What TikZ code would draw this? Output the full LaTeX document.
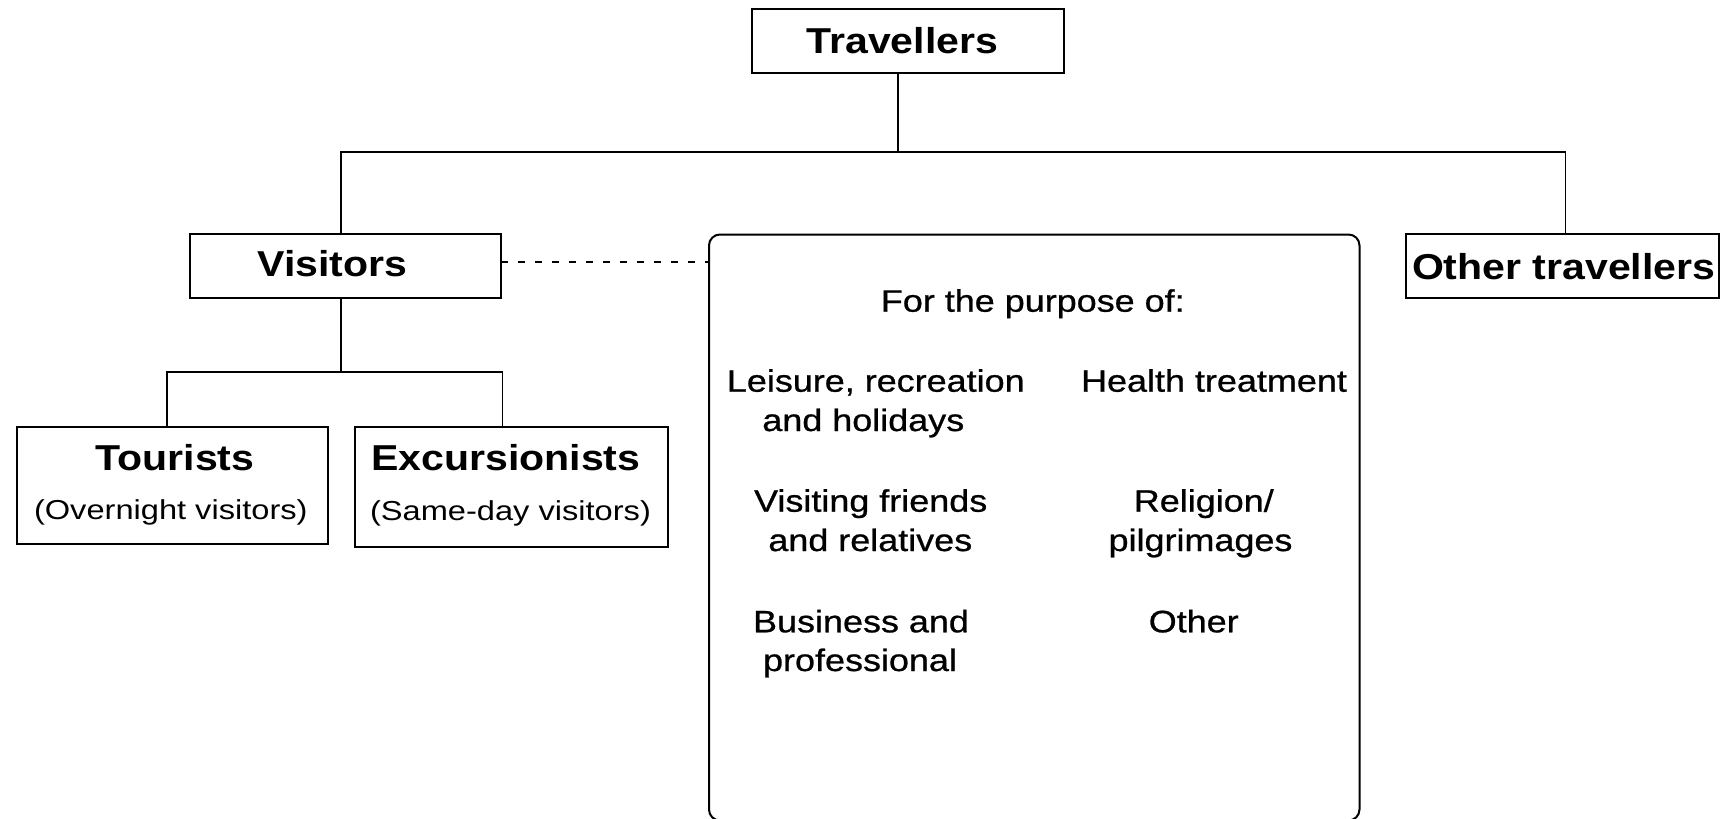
\documentclass[tikz,border=0pt]{standalone}
\usepackage{fontspec}
\setmainfont{Liberation Sans}
\newfontfamily\headfont[FakeStretch=1.14]{Liberation Sans}
\newfontfamily\stretchfont[FakeStretch=1.16,FakeBold=0.8]{Liberation Sans}
\newfontfamily\subfont[FakeStretch=1.19]{Liberation Sans}
\tikzset{
  box/.style={draw, line width=2pt, inner sep=0pt, outer sep=0pt},
  head/.style={font=\headfont\bfseries\fontsize{36}{43}\selectfont, anchor=base, inner sep=0pt},
  ptext/.style={font=\stretchfont\fontsize{31}{39}\selectfont, anchor=base, inner sep=0pt},
  subtext/.style={font=\subfont\fontsize{27.4}{33}\selectfont, anchor=base, inner sep=0pt},
  link/.style={line width=1.8pt},
  dashlink/.style={line width=1.5pt, dash pattern=on 6.7pt off 10.3pt}
}
\begin{document}
\begin{tikzpicture}[x=1pt,y=-1pt]
\useasboundingbox[fill=white] (0,0) rectangle (1724,819);

% boxes
\node[box, minimum width=311.5pt, minimum height=64pt] (trav) at (907.75,41.3) {};
\node[box, minimum width=311.2pt, minimum height=63.7pt] (vis) at (345.8,265.85) {};
\node[box, minimum width=313pt, minimum height=64.3pt] (oth) at (1562.5,266.15) {};
\node[box, minimum width=311pt, minimum height=116.7pt] (tour) at (172.8,485.65) {};
\node[box, minimum width=312.7pt, minimum height=119.7pt] (exc) at (511.35,486.85) {};
\node[box, rounded corners=11pt, minimum width=650.5pt, minimum height=586pt] (purp) at (1034.25,527.5) {};

% box texts
\node[head] (travT) at (902.4,53.3) {Travellers};
\node[head] (visT) at (332.6,276) {Visitors};
\node[head] (othT) at (1563.7,279) {Other travellers};
\node[head] (tourT) at (175,470.7) {Tourists};
\node[subtext] (tourS) at (170.8,519) {(Overnight visitors)};
\node[head] (excT) at (505.8,470) {Excursionists};
\node[subtext] (excS) at (510.5,520) {(Same-day visitors)};

% purpose texts
\node[ptext] (pHead) at (1032.8,311.7) {For the purpose of:};
\node[ptext] (pL1a) at (875.8,391.7) {Leisure, recreation};
\node[ptext] (pL1b) at (863.3,431) {and holidays};
\node[ptext] (pL2a) at (870.7,511.7) {Visiting friends};
\node[ptext] (pL2b) at (870.3,551) {and relatives};
\node[ptext] (pL3a) at (861,632.3) {Business and};
\node[ptext] (pL3b) at (860,671) {professional};
\node[ptext] (pR1) at (1214,391.7) {Health treatment};
\node[ptext] (pR2a) at (1203.8,511.7) {Religion/};
\node[ptext] (pR2b) at (1200.5,551) {pilgrimages};
\node[ptext] (pR3) at (1193.7,632.3) {Other};

% junction coordinates
\coordinate (j1) at (898.3,152);
\coordinate (vl) at (341,152);
\coordinate (vr) at (1565.5,152);
\coordinate (j2) at (341,372);
\coordinate (tl) at (167,372);
\coordinate (tr) at (502.5,372);
\coordinate (dy) at (0,262);

% connectors
\draw[link] (j1 |- trav.south) -- (j1);
\draw[link] (vl |- vis.north) -- (vl) -- (vr) -- (vr |- oth.north);
\draw[link] (vl |- vis.south) -- (j2);
\draw[link] (tl |- tour.north) -- (tl) -- (tr) -- (tr |- exc.north);
\draw[dashlink] (vis.east |- dy) -- (purp.west |- dy);
\end{tikzpicture}
\end{document}
